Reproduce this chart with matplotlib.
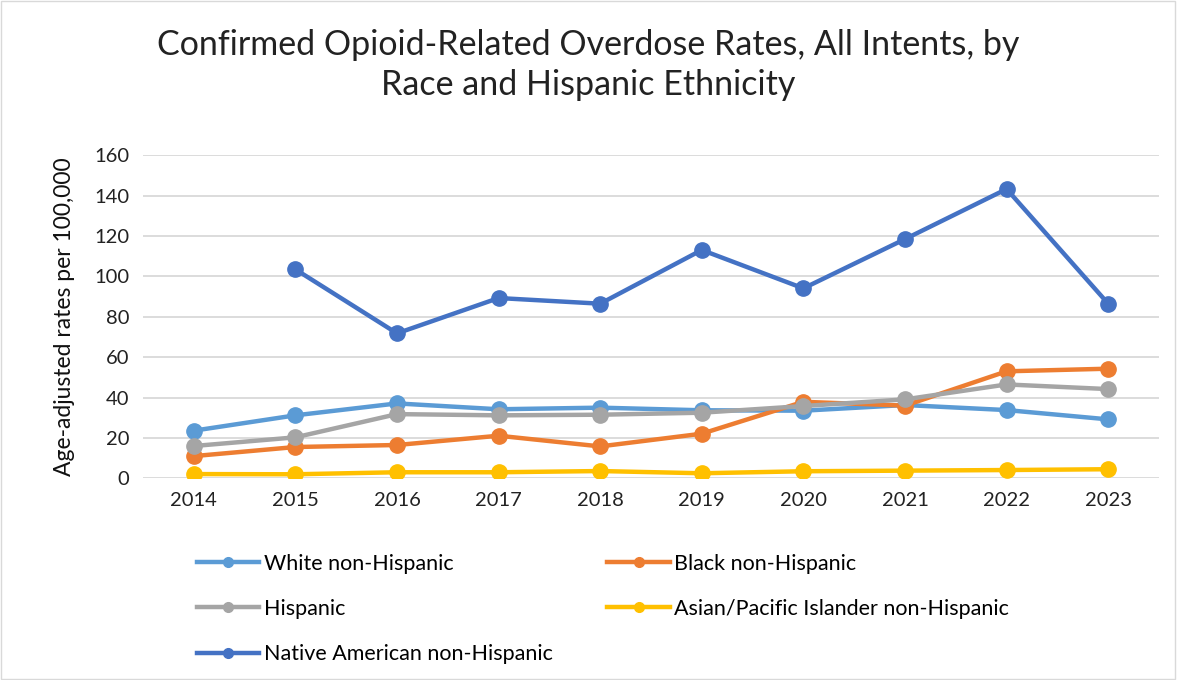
import matplotlib
matplotlib.use("Agg")
import matplotlib.pyplot as plt
from matplotlib.lines import Line2D
from matplotlib.patches import Rectangle
import numpy as np

plt.rcParams['font.family'] = ['Lato', 'DejaVu Sans']

years = ['2014', '2015', '2016', '2017', '2018', '2019', '2020', '2021', '2022', '2023']
white = [23.6, 31.2, 37.1, 34.2, 35.0, 33.7, 33.5, 36.3, 33.8, 29.2]
black = [11.0, 15.5, 16.5, 21.1, 15.8, 22.1, 37.9, 36.0, 53.0, 54.3]
hispanic = [16.0, 20.3, 31.8, 31.2, 31.5, 32.5, 35.8, 39.1, 46.5, 44.2]
asian_pi = [2.1, 2.0, 3.0, 3.0, 3.6, 2.5, 3.5, 3.8, 4.1, 4.5]
native = [np.nan, 103.5, 71.8, 89.3, 86.5, 113.1, 94.1, 118.5, 143.3, 86.5]

series = [
    ('White non-Hispanic', white, '#5B9BD5'),
    ('Black non-Hispanic', black, '#ED7D31'),
    ('Hispanic', hispanic, '#A5A5A5'),
    ('Asian/Pacific Islander non-Hispanic', asian_pi, '#FFC000'),
    ('Native American non-Hispanic', native, '#4472C4'),
]

fig = plt.figure(figsize=(11.77, 6.8), dpi=100)
ax = fig.add_axes([0.1215, 0.2966, 0.8632, 0.475])

x = np.arange(len(years))
handles = {}
for name, vals, color in series:
    ax.plot(x, vals, color=color, lw=3.2, marker='o', markersize=11,
            solid_capstyle='round', zorder=3)
    handles[name] = Line2D([], [], color=color, lw=3.2, marker='o', markersize=7)

ax.set_xlim(-0.5, len(years) - 0.5)
ax.set_ylim(0, 160)
ax.set_yticks(range(0, 161, 20))
ax.set_xticks(x)
ax.set_xticklabels(years)
ax.tick_params(length=0, labelsize=14.5, colors='#222222', pad=10)
ax.grid(axis='y', color='#D9D9D9', lw=1.3)
ax.set_axisbelow(True)
for s in ax.spines.values():
    s.set_visible(False)
ax.set_ylabel('Age-adjusted rates per 100,000', fontsize=16.5, labelpad=14, color='#111111')

fig.text(0.5, 0.958, 'Confirmed Opioid-Related Overdose Rates, All Intents, by\nRace and Hispanic Ethnicity',
         ha='center', va='top', fontsize=24.5, color='#222222', linespacing=1.34)

order = ['White non-Hispanic', 'Hispanic', 'Native American non-Hispanic',
         'Black non-Hispanic', 'Asian/Pacific Islander non-Hispanic']
fig.legend([handles[n] for n in order], order, ncol=2, loc='upper left',
           bbox_to_anchor=(0.1673, 0.186), frameon=False, fontsize=15.5,
           handlelength=2.9, handletextpad=0.2, labelspacing=1.18,
           columnspacing=2.55, borderaxespad=0, borderpad=0)

fig.patches.append(Rectangle((0.001, 0.001), 0.997, 0.997, transform=fig.transFigure,
                             fill=False, edgecolor='#D9D9D9', lw=1))

fig.savefig('out.png', dpi=100)
